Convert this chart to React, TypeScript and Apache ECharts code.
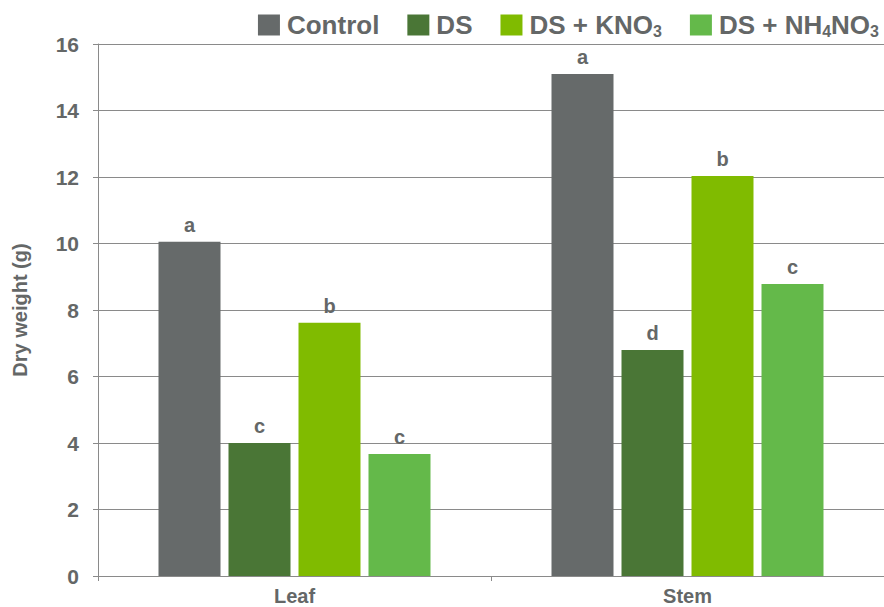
import React, { useEffect, useRef } from "react";
import * as echarts from "echarts";

const categories = ["Leaf", "Stem"];
const seriesNames = ["Control", "DS", "DS + KNO3", "DS + NH4NO3"];
const seriesColors = ["#666a6a", "#4a7636", "#80bb00", "#64b94a"];
const controlValues = [10.05, 15.1];
const dsValues = [4.0, 6.8];
const kno3Values = [7.62, 12.03];
const nh4no3Values = [3.67, 8.78];
const letters = [
  ["a", "a"],
  ["c", "d"],
  ["b", "b"],
  ["c", "c"],
];
const yTicks = { min: 0, max: 16, interval: 2 };

const TEXT = "#646767";
const FONT = "'Liberation Sans', Arial, Helvetica, sans-serif";

export default function App() {
  const ref = useRef<HTMLDivElement>(null);
  useEffect(() => {
    if (!ref.current) return;
    const chart = echarts.init(ref.current, null, { renderer: "svg" });
    const values = [controlValues, dsValues, kno3Values, nh4no3Values];
    chart.setOption({
      animation: false,
      backgroundColor: "#ffffff",
      textStyle: { fontFamily: FONT },
      legend: {
        top: 7,
        right: 0,
        itemWidth: 22,
        itemHeight: 21,
        itemGap: 28,
        icon: "rect",
        data: seriesNames,
        formatter: (name: string) =>
          "{n|" + name.replace(/(\d)/g, "}{s|$1}{n|") + "}",
        textStyle: {
          color: TEXT,
          fontFamily: FONT,
          fontWeight: "bold",
          fontSize: 26,
          padding: [0, 0, 0, 2],
          rich: {
            n: { fontSize: 26, fontWeight: "bold", color: TEXT, fontFamily: FONT },
            s: {
              fontSize: 16,
              fontWeight: "bold",
              color: TEXT,
              fontFamily: FONT,
              padding: [12, 0, 0, 0],
            },
          },
        },
      },
      grid: { left: 98, top: 44, width: 794, height: 532, containLabel: false },
      xAxis: {
        type: "category",
        data: categories,
        axisLine: { lineStyle: { color: "#8a8a8a", width: 1 } },
        axisTick: { show: true, length: 5, lineStyle: { color: "#8a8a8a" } },
        axisLabel: {
          color: TEXT,
          fontWeight: "bold",
          fontSize: 20,
          fontFamily: FONT,
          margin: 10,
        },
        splitLine: { show: false },
      },
      yAxis: {
        type: "value",
        min: yTicks.min,
        max: yTicks.max,
        interval: yTicks.interval,
        name: "Dry weight (g)",
        nameLocation: "middle",
        nameGap: 68,
        nameRotate: 90,
        nameTextStyle: {
          color: TEXT,
          fontWeight: "bold",
          fontSize: 20,
          fontFamily: FONT,
        },
        axisLine: { show: true, lineStyle: { color: "#8a8a8a", width: 1 } },
        axisTick: { show: true, length: 5, lineStyle: { color: "#8a8a8a" } },
        axisLabel: {
          color: TEXT,
          fontWeight: "bold",
          fontSize: 21,
          fontFamily: FONT,
          margin: 19,
        },
        splitLine: { show: true, lineStyle: { color: "#8a8a8a", width: 1 } },
      },
      series: seriesNames.map((name, i) => ({
        name,
        type: "bar",
        data: values[i],
        barWidth: 62,
        barGap: "12.9%",
        barCategoryGap: "31%",
        itemStyle: { color: seriesColors[i] },
        label: {
          show: true,
          position: "top",
          distance: 7,
          color: TEXT,
          fontWeight: "bold",
          fontSize: 20,
          fontFamily: FONT,
          formatter: (p: any) => letters[i][p.dataIndex],
        },
      })),
    });
    return () => chart.dispose();
  }, []);
  return (
    <div
      ref={ref}
      style={{ width: 884, height: 607, position: "absolute", left: 0, top: 0 }}
    />
  );
}
